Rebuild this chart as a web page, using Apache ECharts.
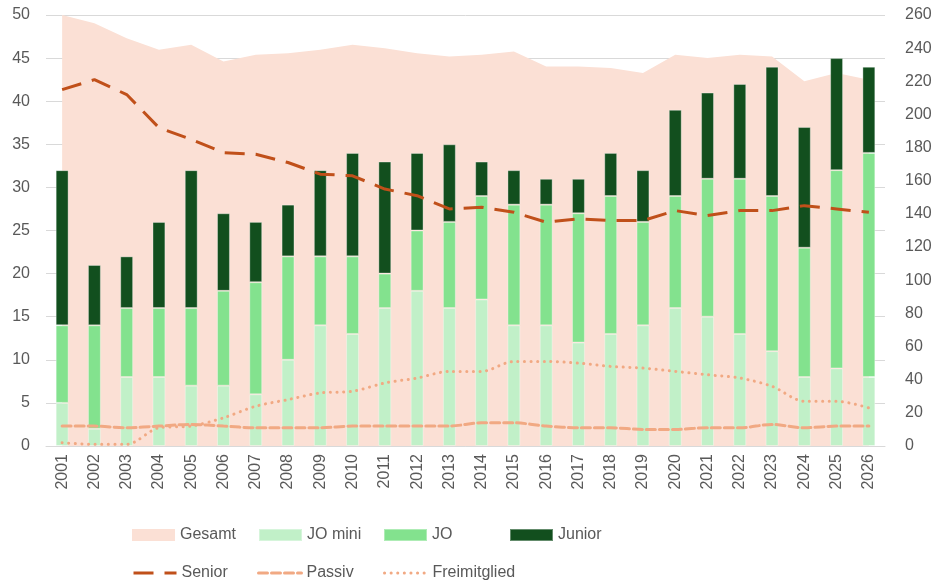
<!DOCTYPE html>
<html><head><meta charset="utf-8">
<script src="https://cdn.jsdelivr.net/npm/echarts@6/dist/echarts.min.js"></script>
<style>html,body{margin:0;padding:0;background:#fff}#c{width:946px;height:580px}</style>
</head><body><div id="c"></div>
<script>
const years = ['2001','2002','2003','2004','2005','2006','2007','2008','2009','2010','2011','2012','2013','2014','2015','2016','2017','2018','2019','2020','2021','2022','2023','2024','2025','2026'];
const gesamt = [260,255,246,239,242,232,236,237,239,242,240,237,235,236,238,229,229,228,225,236,234,236,235,220,225,221];
const joMini = [5,2,8,8,7,7,6,10,14,13,16,18,16,17,14,14,12,13,14,16,15,13,11,8,9,8];
const jo = [9,12,8,8,9,11,13,12,8,9,4,7,10,12,14,14,15,16,12,13,16,18,18,15,23,26];
const junior = [18,7,6,10,16,9,7,6,10,12,13,9,9,4,4,3,4,5,6,10,10,11,15,14,13,10];
const senior = [215,221,212,192,185,177,176,171,164,163,155,151,143,144,141,135,137,136,136,142,139,142,142,145,143,141];
const passiv = [12,12,11,12,13,12,11,11,11,12,12,12,12,14,14,12,11,11,10,10,11,11,13,11,12,12];
const freimitglied = [2,1,1,11,12,17,24,28,32,33,38,41,45,45,51,51,50,48,47,45,43,41,36,27,27,23];

const FONT = '"Liberation Sans", Arial, sans-serif';
const C = {gesamt:'#FBE0D5', mini:'#C1F0C8', jo:'#83E28E', junior:'#124F1E', senior:'#C0501A', passiv:'#F1A983'};

function leg(name, left, top, isLine){
  const o = {data:[isLine ? {name:name} : {name:name, icon:'rect'}], left:left, top:top, itemWidth:43, itemHeight:12, itemGap:0, padding:0,
    textStyle:{fontFamily:FONT, fontSize:16, color:'#595959'}, selectedMode:false};
  if (isLine) { o.itemStyle = {opacity:0}; o.lineStyle = {width:3}; }
  return o;
}
const border = {borderColor:'rgba(255,255,255,0.35)', borderWidth:1};
function bar(name, data, color){
  return {name:name, type:'bar', stack:'k', barWidth:'40%', yAxisIndex:0, data:data, z:2,
    itemStyle:Object.assign({color:color}, border)};
}

const chart = echarts.init(document.getElementById('c'), null, {renderer:'canvas'});
chart.setOption({
  animation:false,
  grid:{left:46, right:61, top:15, bottom:134},
  legend:[
    leg('Gesamt',132,527), leg('JO mini',258,527), leg('JO',383,527), leg('Junior',509,527),
    leg('Senior',132,565,true), leg('Passiv',257,565,true), leg('Freimitglied',383,565,true)
  ],
  xAxis:{type:'category', data:years, boundaryGap:true,
    axisLine:{lineStyle:{color:'#D9D9D9', width:1}}, axisTick:{show:false},
    axisLabel:{rotate:90, color:'#595959', fontFamily:FONT, fontSize:16, margin:8, interval:0}},
  yAxis:[
    {type:'value', min:0, max:50, interval:5, axisLine:{show:false}, axisTick:{show:false},
     splitLine:{lineStyle:{color:'#D9D9D9', width:1}},
     axisLabel:{color:'#595959', fontFamily:FONT, fontSize:16, margin:16}},
    {type:'value', min:0, max:260, interval:20, axisLine:{show:false}, axisTick:{show:false},
     splitLine:{show:false},
     axisLabel:{color:'#595959', fontFamily:FONT, fontSize:16, margin:20}}
  ],
  series:[
    {name:'Gesamt', type:'line', yAxisIndex:1, data:gesamt, symbol:'none', lineStyle:{width:0},
     areaStyle:{color:C.gesamt, opacity:1}, itemStyle:{color:C.gesamt}, z:1},
    bar('JO mini', joMini, C.mini),
    bar('JO', jo, C.jo),
    bar('Junior', junior, C.junior),
    {name:'Senior', type:'line', yAxisIndex:1, data:senior, symbol:'none', z:5,
     lineStyle:{color:C.senior, width:3, type:[20,11]}, itemStyle:{color:C.senior}},
    {name:'Passiv', type:'line', yAxisIndex:1, data:passiv, symbol:'none', smooth:0.3, z:5,
     lineStyle:{color:C.passiv, width:3, type:[9,4], cap:'round'}, itemStyle:{color:C.passiv}},
    {name:'Freimitglied', type:'line', yAxisIndex:1, data:freimitglied, symbol:'none', smooth:0.3, z:5,
     lineStyle:{color:C.passiv, width:3, type:[0.1,6.5], cap:'round'}, itemStyle:{color:C.passiv}}
  ]
});
</script></body></html>
